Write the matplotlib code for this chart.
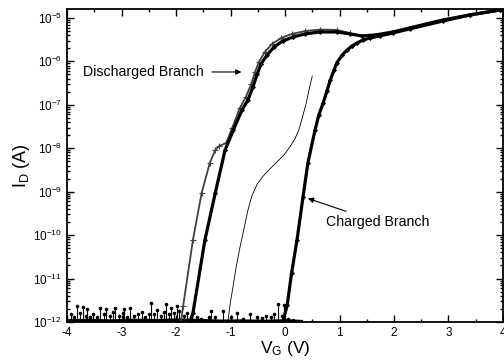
import matplotlib
matplotlib.use("Agg")
import matplotlib.pyplot as plt
from matplotlib.ticker import LogLocator, MultipleLocator, NullFormatter

plt.rcParams["font.family"] = ["Liberation Sans", "DejaVu Sans"]
plt.rcParams["mathtext.fontset"] = "custom"
plt.rcParams["mathtext.rm"] = "Liberation Sans"
plt.rcParams["mathtext.it"] = "Liberation Sans:italic"
plt.rcParams["axes.unicode_minus"] = False

# discharged branch, outer sweep (V_G in V, I_D in A)
dis_a_v = [-1.91, -1.87, -1.69, -1.53, -1.38, -1.28, -1.21, -1.08, -0.97, -0.83,
           -0.72, -0.62, -0.55, -0.48, -0.37, -0.24, -0.07, 0.13, 0.37, 0.64,
           0.95, 1.19]
dis_a_i = [1.0e-12, 2.3e-12, 7.7e-11, 9.3e-10, 4.6e-9, 9.1e-9, 1.12e-8, 1.32e-8,
           2.9e-8, 8.4e-8, 1.51e-7, 3.0e-7, 5.7e-7, 9.7e-7, 1.65e-6, 2.5e-6,
           3.45e-6, 4.3e-6, 5.0e-6, 5.4e-6, 5.3e-6, 4.5e-6]

# discharged branch, inner sweep
dis_b_v = [-1.74, -1.69, -1.47, -1.28, -1.10, -0.95, -0.79, -0.68, -0.59, -0.51,
           -0.44, -0.33, -0.20, -0.04, 0.15, 0.37, 0.64, 0.95, 1.19, 1.41,
           1.65, 1.98, 2.29, 2.90, 3.39, 3.95]
dis_b_i = [1.0e-12, 1.6e-12, 7.7e-11, 9.3e-10, 9.1e-9, 2.6e-8, 7.6e-8, 1.29e-7,
           2.57e-7, 5.1e-7, 8.7e-7, 1.40e-6, 2.15e-6, 2.95e-6, 3.65e-6, 4.3e-6,
           4.75e-6, 4.75e-6, 4.3e-6, 3.85e-6, 4.05e-6, 4.75e-6, 5.9e-6, 9.0e-6,
           1.17e-5, 1.53e-5]

# charged branch
chg_v = [-0.04, 0.04, 0.12, 0.22, 0.33, 0.42, 0.55, 0.62, 0.70, 0.77, 0.83,
         0.90, 0.95, 1.05, 1.14, 1.23, 1.32, 1.43, 1.56, 1.74, 1.98, 2.29,
         2.90, 3.39, 3.95]
chg_i = [1.0e-12, 2.44e-12, 1.33e-11, 7.7e-11, 7.5e-10, 4.6e-9, 2.6e-8, 5.8e-8,
         1.1e-7, 2.1e-7, 3.7e-7, 6.3e-7, 9.2e-7, 1.40e-6, 1.83e-6, 2.26e-6,
         2.65e-6, 3.1e-6, 3.45e-6, 3.85e-6, 4.5e-6, 5.6e-6, 8.5e-6, 1.17e-5,
         1.53e-5]

# intermediate sweep (thin trace)
mid_v = [-1.05, -1.01, -0.95, -0.90, -0.83, -0.75, -0.68, -0.61, -0.51, -0.40,
         -0.28, -0.15, -0.02, 0.09, 0.18, 0.26, 0.33, 0.39, 0.44, 0.50]
mid_i = [1.0e-12, 2.44e-12, 7.0e-12, 1.74e-11, 5.0e-11, 1.45e-10, 3.77e-10,
         7.9e-10, 1.50e-9, 2.29e-9, 3.32e-9, 4.8e-9, 7.0e-9, 1.07e-8, 1.63e-8,
         2.77e-8, 5.8e-8, 1.10e-7, 2.19e-7, 4.6e-7]

# leakage floor: spike tops and baseline (units of 1e-12 A)
spike_v = [-3.93, -3.88, -3.82, -3.76, -3.71, -3.66, -3.63, -3.58, -3.52, -3.45,
           -3.39, -3.33, -3.28, -3.22, -3.15, -3.12, -3.05, -2.98, -2.95, -2.90,
           -2.84, -2.78, -2.70, -2.63, -2.57, -2.50, -2.45, -2.40, -2.35, -2.28,
           -2.22, -2.18, -2.13, -2.10, -2.04, -1.99, -1.95, -1.86, -1.80, -1.73,
           -1.62, -1.55, -1.40, -1.35, -1.28, -1.14, -1.00, -0.89, -0.77, -0.64,
           -0.52, -0.43, -0.34, -0.25, -0.21, -0.12, -0.06, -0.02, 0.06, 0.15]
spike_i = [1.5, 1.3, 2.3, 1.6, 2.2, 1.4, 2.0, 1.3, 1.5, 1.3,
           2.1, 1.5, 2.0, 1.4, 1.7, 2.1, 1.4, 1.6, 2.0, 1.3,
           2.1, 1.4, 1.5, 1.7, 1.3, 1.5, 2.7, 1.5, 1.9, 1.4,
           1.7, 2.6, 1.5, 2.1, 1.6, 2.3, 1.8, 1.4, 1.6, 1.3,
           1.3, 1.2, 1.3, 1.8, 1.3, 1.8, 1.3, 1.6, 1.2, 1.5,
           1.3, 1.25, 1.4, 1.3, 1.5, 2.6, 1.4, 2.4, 1.2, 1.1]
floor_v = [-4.0, -3.6, -3.2, -2.8, -2.4, -2.0, -1.6, -1.2, -0.8, -0.4, 0.0, 0.3]
floor_i = [1.06, 1.08, 1.05, 1.09, 1.07, 1.10, 1.08, 1.04, 1.05, 1.03, 1.06, 1.02]

fig = plt.figure(figsize=(5.04, 3.63), dpi=100)
ax = fig.add_axes([0.133, 0.113, 0.865, 0.862])

ax.plot(floor_v, [v * 1e-12 for v in floor_i], color="black", lw=2.5)
ax.vlines(spike_v, 1e-12, [v * 1e-12 for v in spike_i], color="black", lw=0.8)
ax.plot(spike_v, [v * 1e-12 for v in spike_i], ls="none", color="black",
        marker="o", ms=2.6, mew=0)

ax.plot(dis_a_v, dis_a_i, color="0.25", lw=1.3, marker="+", ms=4, mew=0.8)
ax.plot(dis_b_v, dis_b_i, color="black", lw=2.3, marker="D", ms=2.6, mew=0)
ax.plot(chg_v, chg_i, color="black", lw=2.3, marker="D", ms=2.6, mew=0)
ax.plot(mid_v, mid_i, color="black", lw=0.6)

ax.set_yscale("log")
ax.set_xlim(-4, 4)
ax.set_ylim(1e-12, 1.6e-5)
ax.xaxis.set_major_locator(MultipleLocator(1))
ax.xaxis.set_minor_locator(MultipleLocator(0.5))
ax.yaxis.set_major_locator(LogLocator(base=10, numticks=20))
ax.yaxis.set_minor_locator(LogLocator(base=10, subs=range(2, 10), numticks=20))
ax.yaxis.set_minor_formatter(NullFormatter())
ax.tick_params(which="both", direction="in", top=True, right=True,
               labelsize=8.5, width=1.0)
ax.tick_params(which="major", length=5)
ax.tick_params(which="minor", length=2.5)
for s in ax.spines.values():
    s.set_linewidth(1.3)

ax.set_xlabel(r"V$_\mathrm{G}$ (V)", fontsize=12.5, labelpad=0)
ax.set_ylabel(r"I$_\mathrm{D}$ (A)", fontsize=13, labelpad=1)

ax.annotate("Discharged Branch", xy=(-0.80, 5.7e-7), xytext=(-3.71, 5.7e-7),
            fontsize=10.2, va="center", ha="left",
            arrowprops=dict(arrowstyle="-|>", color="black", lw=0.8,
                            mutation_scale=8, shrinkA=4, shrinkB=0))
ax.annotate("Charged Branch", xy=(0.42, 7.0e-10), xytext=(0.75, 2.0e-10),
            fontsize=10.2, va="center", ha="left",
            arrowprops=dict(arrowstyle="-|>", color="black", lw=0.8,
                            mutation_scale=8, shrinkA=2, shrinkB=0))

fig.savefig("out.png", dpi=100)
